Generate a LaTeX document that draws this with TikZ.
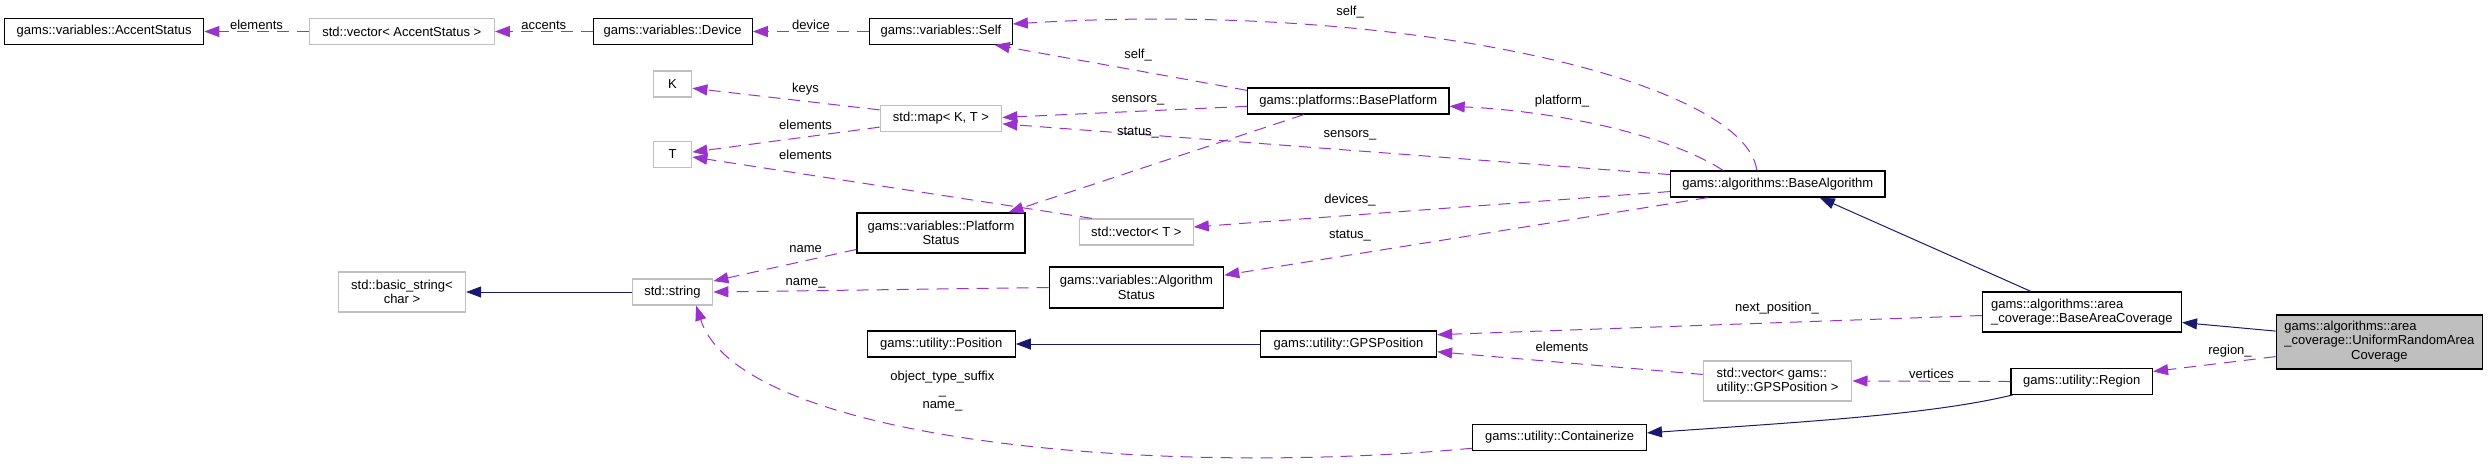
\documentclass[tikz,border=0pt]{standalone}
\usepackage{fontspec}
\setmainfont{Liberation Sans}
\usepackage{tikz}
\usetikzlibrary{arrows.meta,positioning,calc}
\definecolor{usagepurple}{RGB}{154,50,205}
\definecolor{basenavy}{RGB}{25,25,112}
\definecolor{extgray}{RGB}{191,191,191}

\begin{document}
\begin{tikzpicture}[
    x=0.2mm, y=-0.2mm,
    every node/.style={font=\fontsize{7.4}{8.2}\selectfont},
    box/.style={draw, line width=0.25mm, fill=white, inner sep=1pt, minimum height=5.1mm, align=center},
    extbox/.style={box, draw=extgray},
    uses/.style={usagepurple, line width=0.2mm, dash pattern=on 2.4mm off 1.6mm, -{Triangle[length=3mm, width=2.2mm]}},
    derives/.style={basenavy, line width=0.2mm, -{Triangle[length=3mm, width=2.2mm]}},
    lbl/.style={inner sep=1pt, text=black, align=center},
]
\useasboundingbox (0,0) rectangle (2488,469);

% classes
\node[box, minimum width=39.8mm] (accent) at (104.2,31.5) {gams::variables::AccentStatus};
\node[extbox, minimum width=37mm] (vecaccent) at (401.8,31.5) {std::vector< AccentStatus >};
\node[box, minimum width=31.8mm] (device) at (672.7,31.5) {gams::variables::Device};
\node[box, minimum width=28.5mm] (self) at (941,31.5) {gams::variables::Self};
\node[extbox, minimum width=7.7mm, minimum height=5.2mm] (K) at (672.5,84) {K};
\node[extbox, minimum width=24.3mm] (map) at (941,118.5) {std::map< K, T >};
\node[extbox, minimum width=7.7mm] (T) at (672.5,154.5) {T};
\node[box, minimum width=40.3mm, minimum height=5.2mm] (baseplatform) at (1348.3,101) {gams::platforms::BasePlatform};
\node[box, minimum width=33.6mm, minimum height=8mm] (platformstatus) at (941,233) {gams::variables::Platform\\Status};
\node[extbox, minimum width=22.7mm, minimum height=5.2mm] (vecT) at (1136.4,232) {std::vector< T >};
\node[extbox, minimum width=16.1mm, minimum height=5.2mm] (string) at (672.5,292) {std::string};
\node[box, minimum width=34.9mm, minimum height=8.2mm] (algostatus) at (1136.4,287.5) {gams::variables::Algorithm\\Status};
\node[extbox, minimum width=25.4mm, minimum height=8mm] (basicstring) at (402,292) {std::basic\_string<\\char >};
\node[box, minimum width=42.9mm, minimum height=5.2mm] (basealgo) at (1777.8,184) {gams::algorithms::BaseAlgorithm};
\node[box, minimum width=39.8mm, minimum height=8mm, align=left] (baseareacov) at (2081.9,312) {gams::algorithms::area\\\_coverage::BaseAreaCoverage};
\node[box, fill=extgray, minimum width=41.3mm, minimum height=10.8mm] (uniform) at (2379.4,342) {\begin{tabular}{@{}l@{}}gams::algorithms::area\\\_coverage::UniformRandomArea\\\multicolumn{1}{@{}c@{}}{Coverage}\end{tabular}};
\node[box, minimum width=29.6mm, minimum height=5.2mm] (position) at (941.2,344) {gams::utility::Position};
\node[box, minimum width=35.2mm, minimum height=5.2mm] (gpsposition) at (1348.5,344) {gams::utility::GPSPosition};
\node[extbox, minimum width=29.7mm, minimum height=8mm, align=left] (vecgps) at (1777.6,381) {std::vector< gams::\\utility::GPSPosition >};
\node[box, minimum width=28.3mm] (region) at (2081.7,381.5) {gams::utility::Region};
\node[box, minimum width=34.7mm] (containerize) at (1559.6,437.5) {gams::utility::Containerize};

% usage relations
\draw[uses] (vecaccent.west) -- (accent.east) node[lbl, midway, above] (l1) {elements};
\draw[uses] (device.west) -- (vecaccent.east) node[lbl, midway, above] (l2) {accents};
\draw[uses] (self.west) -- (device.east) node[lbl, midway, above] (l3) {device};
\draw[uses] (basealgo.147) .. controls (1745,80) and (1400,0) .. (self.6) node[lbl] (l4) at (1350,12) {self\_};
\draw[uses] (baseplatform.174) -- (self.346) node[lbl] (l5) at (1138,55) {self\_};
\draw[uses] (map.172) -- (K.348) node[lbl] (l6) at (805.6,89) {keys};
\draw[uses] (map.188) -- (T.7) node[lbl] (l7) at (805.6,125) {elements};
\draw[uses] (vecT.163) -- (T.353) node[lbl] (l8) at (805.6,155) {elements};
\draw[uses] (baseplatform.183) -- (map.1) node[lbl] (l9) at (1138,100) {sensors\_};
\draw[uses] (basealgo.175) -- (map.355) node[lbl] (l10) at (1350,135) {sensors\_};
\draw[uses] (baseplatform.197) -- (platformstatus.17) node[lbl] (l11) at (1138,133) {status\_};
\draw[uses] (basealgo.166) .. controls (1660,130) and (1540,110) .. (baseplatform.357) node[lbl] (l12) at (1562,101) {platform\_};
\draw[uses] (basealgo.184) -- (vecT.5) node[lbl] (l13) at (1350,200) {devices\_};
\draw[uses] (basealgo.191) -- (algostatus.8) node[lbl] (l14) at (1350,236) {status\_};
\draw[uses] (platformstatus.191) -- (string.15) node[lbl] (l15) at (805.6,249) {name};
\draw[uses] (algostatus.west) -- (string.east) node[lbl] (l16) at (805.6,283) {name\_};
\draw[uses] (containerize.187) .. controls (1150,478) and (740,440) .. (string.330) node[lbl] (l17) at (942.4,391) {object\_type\_suffix\\\_\\name\_};
\draw[uses] (baseareacov.182) -- (gpsposition.6) node[lbl] (l18) at (1777,308) {next\_position\_};
\draw[uses] (vecgps.175) -- (gpsposition.355) node[lbl] (l19) at (1562,347) {elements};
\draw[uses] (region.west) -- (vecgps.east) node[lbl, midway, above] (l20) {vertices};
\draw[uses] (uniform.188) -- (region.8) node[lbl] (l21) at (2230,351) {region\_};

% inheritance
\draw[derives] (string.west) -- (basicstring.east);
\draw[derives] (gpsposition.west) -- (position.east);
\draw[derives] (region.191) .. controls (1930,415) and (1800,422) .. (containerize.3);
\draw[derives] (baseareacov.158) -- (basealgo.342);
\draw[derives] (uniform.174) -- (baseareacov.354);
\end{tikzpicture}
\end{document}
